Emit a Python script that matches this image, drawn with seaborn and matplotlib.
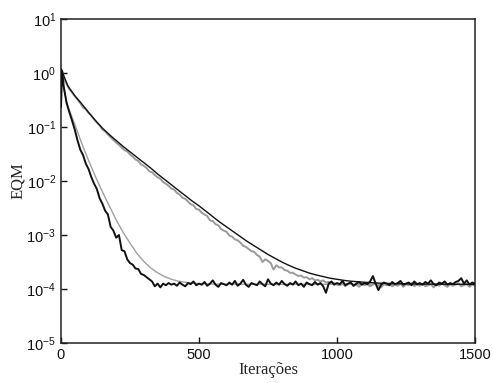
import numpy as np
import pandas as pd
import matplotlib
matplotlib.use("Agg")
import matplotlib.pyplot as plt
import seaborn as sns

# ---------------- data (log10 of EQM) ----------------
iter_ruido = [0, 4] + list(range(10, 1510, 10))

# black noisy curve (fast convergence)
eqm_preto_ruido_log10 = [
    -0.63, 0.04,
    -0.25, -0.55, -0.72, -0.88, -1.05, -1.25, -1.42, -1.52, -1.68, -1.78,
    -1.93, -2.05, -2.15, -2.32, -2.42, -2.55, -2.62, -2.85, -2.92, -3.05,
    -3.00, -3.28, -3.30, -3.45, -3.52, -3.55, -3.62, -3.63, -3.72, -3.74,
    -3.78, -3.82, -3.86, -3.95, -3.90, -3.97, -3.90, -3.93, -3.89, -3.92,
    -3.90, -3.94, -3.88, -3.92, -3.95, -3.89, -3.91, -3.86, -3.93, -3.90,
    -3.92, -3.87, -3.94, -3.90, -3.84, -3.92, -3.96, -3.89, -3.91, -3.93,
    -3.88, -3.92, -3.85, -3.94, -3.90, -3.83, -3.92, -3.96, -3.89, -3.91,
    -3.93, -3.86, -3.91, -3.95, -3.82, -3.90, -3.93, -3.88, -3.92, -3.85,
    -3.91, -3.94, -3.89, -3.92, -3.86, -3.93, -3.90, -3.96, -3.88, -3.91,
    -3.93, -3.87, -3.92, -3.89, -3.95, -4.07, -3.90, -3.86, -3.92, -3.89,
    -3.91, -3.85, -3.93, -3.90, -3.88, -3.94, -3.90, -3.87, -3.92, -3.89,
    -3.91, -3.86, -3.76, -3.90, -4.02, -3.92, -3.88, -3.90, -3.93, -3.87,
    -3.91, -3.89, -3.85, -3.92, -3.90, -3.88, -3.93, -3.86, -3.91, -3.89,
    -3.92, -3.87, -3.90, -3.84, -3.91, -3.93, -3.88, -3.90, -3.86, -3.92,
    -3.89, -3.91, -3.87, -3.85, -3.80, -3.90, -3.84, -3.92, -3.88, -3.90,
]

# gray noisy curve (slow convergence)
eqm_cinza_ruido_log10 = [
    0.00, 0.05,
    -0.10, -0.20, -0.30, -0.36, -0.43, -0.49, -0.56, -0.64, -0.67, -0.74,
    -0.79, -0.86, -0.92, -0.97, -1.05, -1.08, -1.14, -1.19, -1.24, -1.29,
    -1.33, -1.38, -1.43, -1.45, -1.51, -1.55, -1.60, -1.63, -1.69, -1.72,
    -1.76, -1.82, -1.84, -1.89, -1.93, -1.96, -2.02, -2.05, -2.09, -2.14,
    -2.16, -2.22, -2.25, -2.31, -2.33, -2.38, -2.43, -2.45, -2.52, -2.53,
    -2.59, -2.62, -2.65, -2.73, -2.74, -2.80, -2.82, -2.89, -2.92, -2.94,
    -3.01, -3.03, -3.08, -3.10, -3.14, -3.20, -3.22, -3.26, -3.30, -3.31,
    -3.37, -3.40, -3.50, -3.45, -3.48, -3.52, -3.64, -3.56, -3.60, -3.60,
    -3.65, -3.66, -3.70, -3.70, -3.73, -3.76, -3.75, -3.79, -3.78, -3.82,
    -3.80, -3.84, -3.83, -3.86, -3.84, -3.88, -3.87, -3.90, -3.89, -3.92,
    -3.93, -3.90, -3.95, -3.91, -3.89, -3.94, -3.92, -3.96, -3.90, -3.93,
    -3.91, -3.95, -3.92, -3.89, -3.94, -3.97, -3.91, -3.93, -3.90, -3.95,
    -3.92, -3.94, -3.90, -3.96, -3.91, -3.93, -3.89, -3.95, -3.92, -3.94,
    -3.90, -3.95, -3.93, -3.91, -3.97, -3.92, -3.94, -3.90, -3.93, -3.96,
    -3.91, -3.94, -3.92, -3.89, -3.95, -3.93, -3.91, -3.96, -3.92, -3.94,
]

# black smooth curve (slow, theoretical)
iter_teorico_lento = list(range(0, 1225, 25)) + [1300, 1400, 1500]
eqm_preto_teorico_log10 = [
    0.08, -0.24, -0.42, -0.57, -0.73, -0.88, -1.02, -1.14, -1.25, -1.36,
    -1.46, -1.56, -1.66, -1.76, -1.87, -1.97, -2.07, -2.17, -2.27, -2.37,
    -2.46, -2.56, -2.66, -2.76, -2.85, -2.94, -3.03, -3.12, -3.20, -3.28,
    -3.36, -3.43, -3.50, -3.56, -3.615, -3.66, -3.705, -3.74, -3.77, -3.80,
    -3.82, -3.84, -3.855, -3.865, -3.875, -3.883, -3.89, -3.895, -3.90,
    -3.908, -3.912, -3.913,
]

# gray smooth curve (fast, theoretical)
iter_teorico_rapido = [0, 10] + list(range(25, 625, 25)) + list(range(700, 1600, 100))
eqm_cinza_teorico_log10 = [
    0.06, -0.30,
    -0.62, -0.95, -1.30, -1.62, -1.92, -2.20, -2.46, -2.72, -2.95, -3.15,
    -3.34, -3.49, -3.61, -3.70, -3.77, -3.82, -3.855, -3.875, -3.89, -3.90,
    -3.905, -3.908, -3.91, -3.911,
    -3.912, -3.912, -3.912, -3.913, -3.913, -3.913, -3.913, -3.913, -3.913,
]

x_ticks = [0, 500, 1000, 1500]
y_exps = [-5, -4, -3, -2, -1, 0, 1]

# ---------------- plotting ----------------
sns.set_style("ticks")
plt.rcParams["font.family"] = ["Liberation Sans", "DejaVu Sans"]
plt.rcParams["mathtext.fontset"] = "custom"
plt.rcParams["mathtext.rm"] = "Liberation Sans"
plt.rcParams["mathtext.it"] = "Liberation Sans:italic"
plt.rcParams["mathtext.bf"] = "Liberation Sans:bold"

fig = plt.figure(figsize=(4.93, 3.83), dpi=100)
ax = fig.add_axes([0.1237, 0.1044, 0.8398, 0.846])

df_cr = pd.DataFrame({"x": iter_ruido, "y": 10 ** np.array(eqm_cinza_ruido_log10)})
df_pr = pd.DataFrame({"x": iter_ruido, "y": 10 ** np.array(eqm_preto_ruido_log10)})
df_pt = pd.DataFrame({"x": iter_teorico_lento, "y": 10 ** np.array(eqm_preto_teorico_log10)})
df_ct = pd.DataFrame({"x": iter_teorico_rapido, "y": 10 ** np.array(eqm_cinza_teorico_log10)})

sns.lineplot(data=df_cr, x="x", y="y", ax=ax, color="#9a9a9a", lw=1.4, estimator=None, zorder=2)
sns.lineplot(data=df_ct, x="x", y="y", ax=ax, color="#a0a0a0", lw=1.0, estimator=None, zorder=3)
sns.lineplot(data=df_pr, x="x", y="y", ax=ax, color="#111111", lw=1.4, estimator=None, zorder=4)
sns.lineplot(data=df_pt, x="x", y="y", ax=ax, color="#111111", lw=1.0, estimator=None, zorder=5)

ax.set_yscale("log")
ax.set_xlim(0, 1500)
ax.set_ylim(1e-5, 1e1)
ax.set_xticks(x_ticks)
ax.set_xticklabels([str(t) for t in x_ticks])
ax.set_yticks([10.0 ** e for e in y_exps])
ax.set_yticklabels([r"$\mathregular{10^{%d}}$" % e for e in y_exps])
ax.yaxis.set_minor_locator(matplotlib.ticker.NullLocator())
ax.tick_params(axis="both", which="major", direction="in", length=4, width=1,
               labelsize=10.5, colors="#111111", top=False, right=False)
for s in ax.spines.values():
    s.set_color("#222222")
    s.set_linewidth(1.1)

ax.set_xlabel("Iterações", family=["Liberation Serif", "DejaVu Serif"], fontsize=12, labelpad=0)
ax.set_ylabel("EQM", family=["Liberation Serif", "DejaVu Serif"], fontsize=12, labelpad=0)

fig.savefig("out.png", dpi=100)
